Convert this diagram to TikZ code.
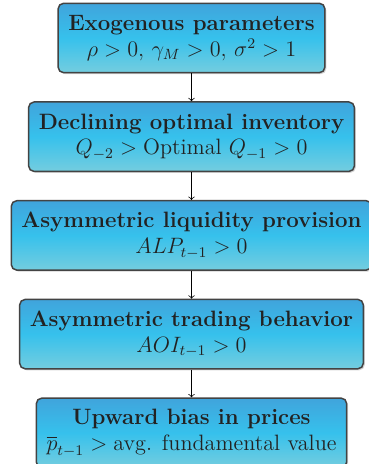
\documentclass[tikz,border=0pt]{standalone}
\usepackage{amsmath}
\usetikzlibrary{positioning,shadows}
\definecolor{ink}{HTML}{222222}
\definecolor{boxtop}{HTML}{40A4DC}
\definecolor{boxmid}{HTML}{36C1EC}
\definecolor{boxbot}{HTML}{74CDDF}

\begin{document}
\begin{tikzpicture}[x=0.54pt,y=0.54pt,font=\large,text=ink,
  stagebox/.style={draw=ink!85,thick,rounded corners=3pt,align=center,
    top color=boxtop,bottom color=boxbot,middle color=boxmid,
    inner xsep=5.5pt,inner ysep=4pt,minimum height=37.5pt,
    drop shadow={opacity=0.35,shadow xshift=0.8pt,shadow yshift=-0.8pt}},
  node distance=15pt]
  \useasboundingbox (0,0) rectangle (369,464);

  \node[stagebox] (exo) at (191.5,426)
    {\textbf{Exogenous parameters}\\ $\rho>0,\,\gamma_M>0,\,\sigma^2>1$};
  \node[stagebox,below=of exo] (inv)
    {\textbf{Declining optimal inventory}\\ $Q_{-2}>\text{Optimal }Q_{-1}>0$};
  \node[stagebox,below=of inv] (alp)
    {\textbf{Asymmetric liquidity provision}\\ $ALP_{t-1}>0$};
  \node[stagebox,below=of alp] (aoi)
    {\textbf{Asymmetric trading behavior}\\ $AOI_{t-1}>0$};
  \node[stagebox,below=of aoi] (bias)
    {\textbf{Upward bias in prices}\\ $\overline{p}_{t-1}>\text{avg. fundamental value}$};

  \draw[->] (exo) -- (inv);
  \draw[->] (inv) -- (alp);
  \draw[->] (alp) -- (aoi);
  \draw[->] (aoi) -- (bias);
\end{tikzpicture}
\end{document}
